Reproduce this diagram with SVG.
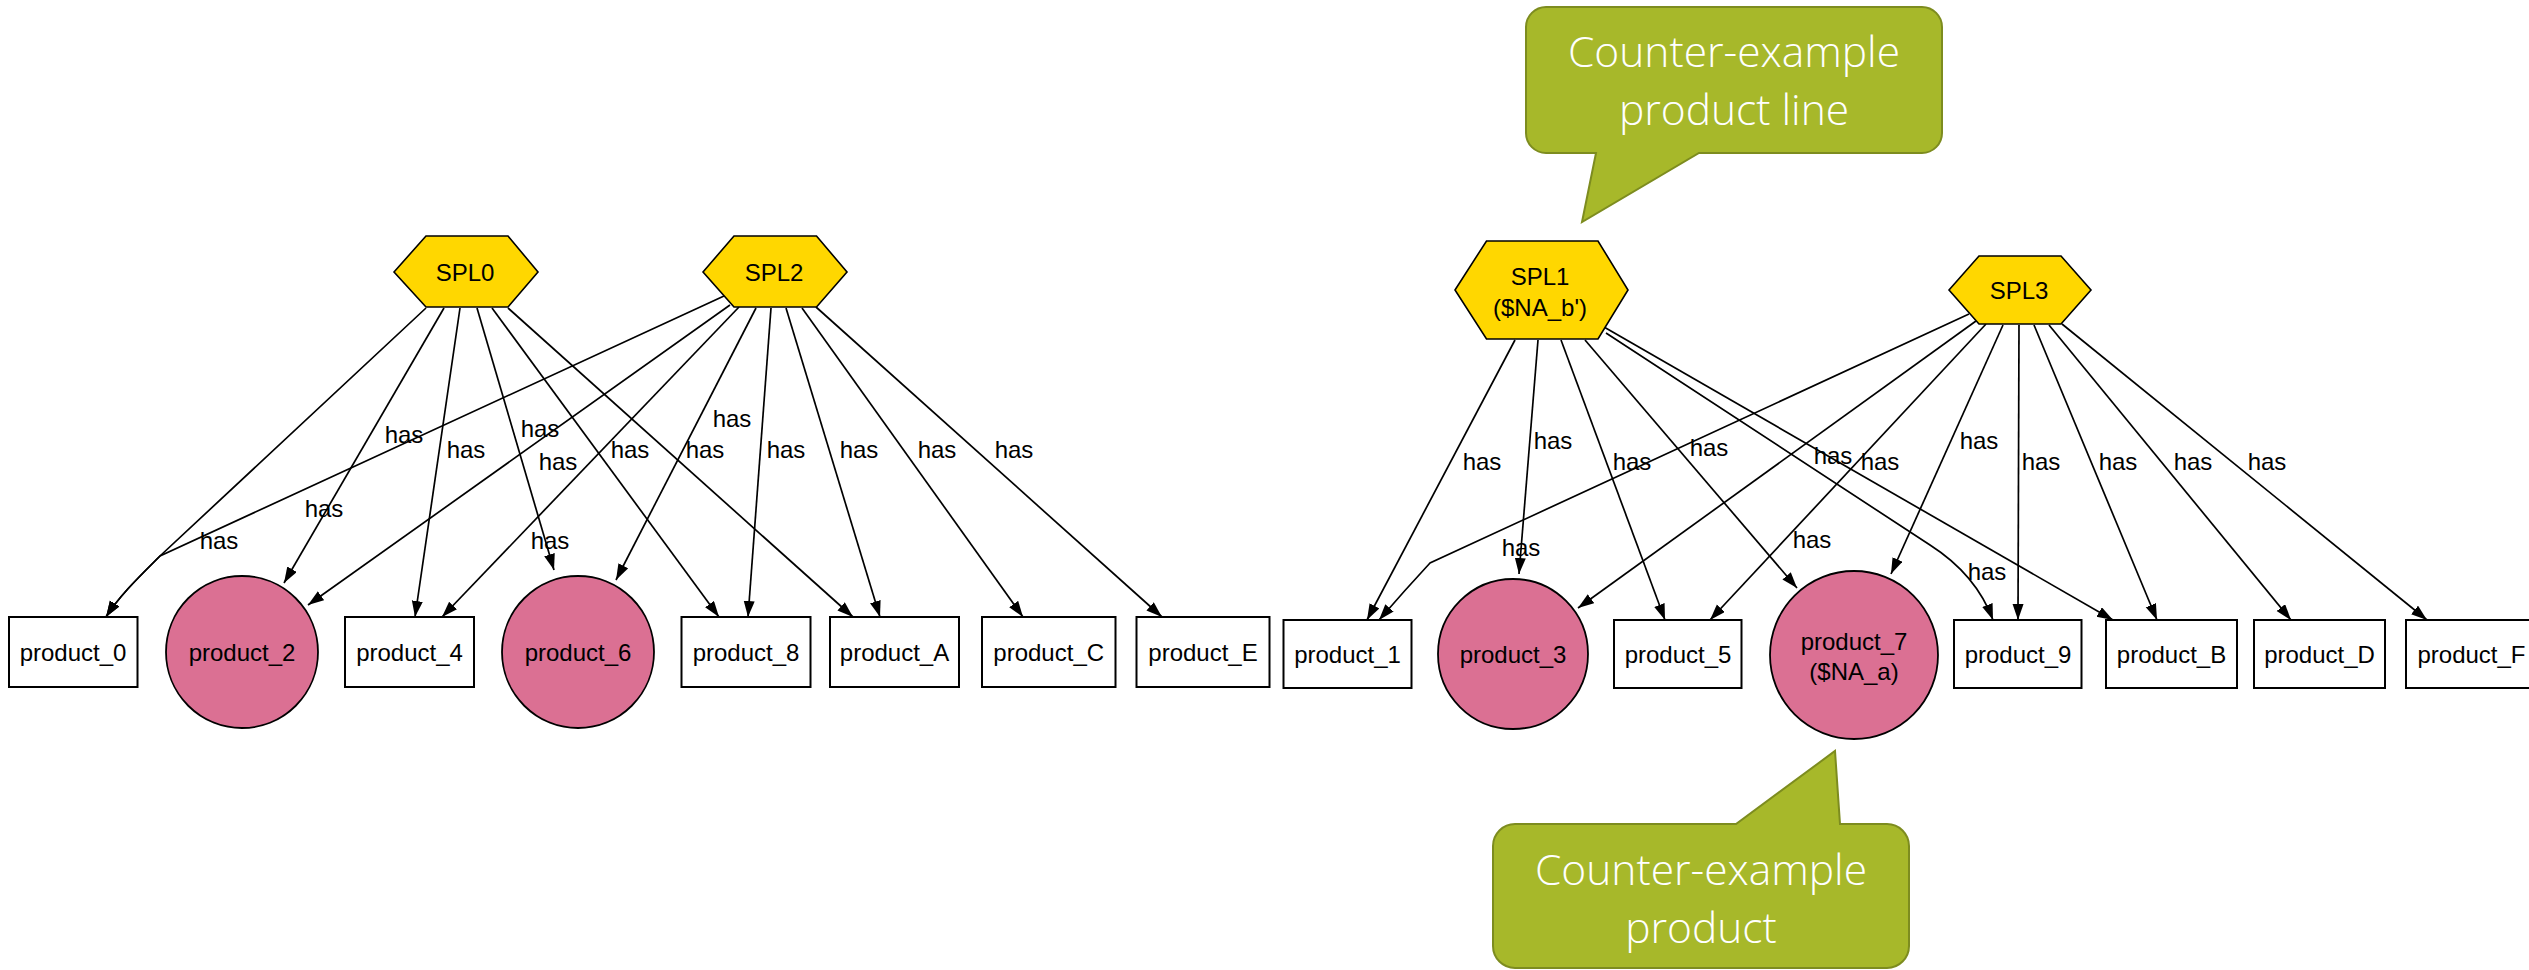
<svg xmlns="http://www.w3.org/2000/svg" width="2529" height="970" viewBox="0 0 2529 970">
  <defs>
    <marker id="arrow" markerUnits="userSpaceOnUse" markerWidth="18" markerHeight="12" refX="16" refY="5.5" orient="auto">
      <path d="M0,0 L16,5.5 L0,11 Z" fill="#000"/>
    </marker>
    <style>
      .spl { fill: #FFD700; stroke: #000; stroke-width: 1.6; }
      .prod { fill: #fff; stroke: #000; stroke-width: 2; }
      .hit { fill: #DB7093; stroke: #000; stroke-width: 1.8; }
      .lbl { font-family: "Liberation Sans", Arial, sans-serif; font-size: 24px; fill: #000; text-anchor: middle; }
      .edge { fill: none; stroke: #000; stroke-width: 1.7; marker-end: url(#arrow); }
      .call { fill: #A7B82A; stroke: #7D8C1F; stroke-width: 2; }
      .callt { font-family: "Open Sans", "Liberation Sans", sans-serif; font-weight: 300; font-size: 42.5px; fill: #fff; text-anchor: middle; }
    </style>
  </defs>

  <rect width="2529" height="970" fill="#fff"/>

  <!-- connectors -->
  <g id="edges">
    <!-- SPL0 -->
    <path class="edge" d="M426,308 L160,556 C140,576 120,595 106,617"/>
    <path class="edge" d="M444,308 L284,583"/>
    <path class="edge" d="M460,308 L415,617"/>
    <path class="edge" d="M477,308 L554,570"/>
    <path class="edge" d="M492,308 L719,617"/>
    <path class="edge" d="M508,308 L853,617"/>
    <!-- SPL2 -->
    <path class="edge" d="M724,296 L160,556 C140,576 120,595 106,617"/>
    <path class="edge" d="M730,305 L308,605"/>
    <path class="edge" d="M739,307 L442,617"/>
    <path class="edge" d="M756,308 L616,580"/>
    <path class="edge" d="M771,308 L748,617"/>
    <path class="edge" d="M786,308 L880,617"/>
    <path class="edge" d="M802,308 L1023,617"/>
    <path class="edge" d="M816,307 L1162,617"/>
    <!-- SPL1 -->
    <path class="edge" d="M1515,340 L1367,620"/>
    <path class="edge" d="M1538,340 L1519,574"/>
    <path class="edge" d="M1561,340 L1665,620"/>
    <path class="edge" d="M1585,340 L1797,588"/>
    <path class="edge" d="M1606,333 L1930,545 C1955,561 1980,585 1993,620"/>
    <path class="edge" d="M1604,327 L2113,620"/>
    <!-- SPL3 -->
    <path class="edge" d="M1969,314 L1430,563 Q1405,590 1379,620"/>
    <path class="edge" d="M1976,321 L1578,608"/>
    <path class="edge" d="M1986,324 L1710,620"/>
    <path class="edge" d="M2003,325 L1891,574"/>
    <path class="edge" d="M2019,325 L2018,620"/>
    <path class="edge" d="M2034,325 L2157,620"/>
    <path class="edge" d="M2049,325 L2291,620"/>
    <path class="edge" d="M2062,324 L2427,620"/>

    <!-- edge labels -->
    <g class="lbl">
      <text x="404" y="443">has</text>
      <text x="466" y="458">has</text>
      <text x="540" y="437">has</text>
      <text x="558" y="470">has</text>
      <text x="630" y="458">has</text>
      <text x="324" y="517">has</text>
      <text x="219" y="549">has</text>
      <text x="550" y="549">has</text>
      <text x="732" y="427">has</text>
      <text x="705" y="458">has</text>
      <text x="786" y="458">has</text>
      <text x="859" y="458">has</text>
      <text x="937" y="458">has</text>
      <text x="1014" y="458">has</text>

      <text x="1482" y="470">has</text>
      <text x="1553" y="449">has</text>
      <text x="1632" y="470">has</text>
      <text x="1709" y="456">has</text>
      <text x="1833" y="464">has</text>
      <text x="1880" y="470">has</text>
      <text x="1521" y="556">has</text>
      <text x="1812" y="548">has</text>
      <text x="1979" y="449">has</text>
      <text x="2041" y="470">has</text>
      <text x="2118" y="470">has</text>
      <text x="2193" y="470">has</text>
      <text x="2267" y="470">has</text>
      <text x="1987" y="580">has</text>
    </g>
  </g>

  <!-- product lines -->
  <g id="SPL0">
    <polygon class="spl" points="394,272 426,236 508,236 538,272 508,307 426,307"/>
    <text class="lbl" x="465" y="281">SPL0</text>
  </g>
  <g id="SPL2">
    <polygon class="spl" points="703,272 734,236 816.5,236 847,272 816.5,307 734,307"/>
    <text class="lbl" x="774" y="281">SPL2</text>
  </g>
  <g id="SPL1">
    <polygon class="spl" points="1455,290 1486.5,241 1598,241 1628,290 1598,339 1486.5,339"/>
    <text class="lbl" x="1540" y="285">SPL1</text>
    <text class="lbl" x="1540" y="316">($NA_b')</text>
  </g>
  <g id="SPL3">
    <polygon class="spl" points="1949,290 1979,256 2061,256 2091,290 2061,324 1979,324"/>
    <text class="lbl" x="2019" y="299">SPL3</text>
  </g>

  <!-- products -->
  <g id="product_0">
    <rect class="prod" x="9" y="617" width="128.5" height="70"/>
    <text class="lbl" x="73" y="661">product_0</text>
  </g>
  <g id="product_2">
    <circle class="hit" cx="242" cy="652" r="76"/>
    <text class="lbl" x="242" y="661">product_2</text>
  </g>
  <g id="product_4">
    <rect class="prod" x="345" y="617" width="129" height="70"/>
    <text class="lbl" x="409.5" y="661">product_4</text>
  </g>
  <g id="product_6">
    <circle class="hit" cx="578" cy="652" r="76"/>
    <text class="lbl" x="578" y="661">product_6</text>
  </g>
  <g id="product_8">
    <rect class="prod" x="681.5" y="617" width="129" height="70"/>
    <text class="lbl" x="746" y="661">product_8</text>
  </g>
  <g id="product_A">
    <rect class="prod" x="830" y="617" width="129" height="70"/>
    <text class="lbl" x="894.5" y="661">product_A</text>
  </g>
  <g id="product_C">
    <rect class="prod" x="982" y="617" width="133.5" height="70"/>
    <text class="lbl" x="1048.7" y="661">product_C</text>
  </g>
  <g id="product_E">
    <rect class="prod" x="1136.5" y="617" width="133" height="70"/>
    <text class="lbl" x="1203" y="661">product_E</text>
  </g>

  <g id="product_1">
    <rect class="prod" x="1283.5" y="620" width="128" height="68"/>
    <text class="lbl" x="1347.5" y="663">product_1</text>
  </g>
  <g id="product_3">
    <circle class="hit" cx="1513" cy="654" r="75"/>
    <text class="lbl" x="1513" y="663">product_3</text>
  </g>
  <g id="product_5">
    <rect class="prod" x="1614" y="620" width="127.5" height="68"/>
    <text class="lbl" x="1678" y="663">product_5</text>
  </g>
  <g id="product_7">
    <circle class="hit" cx="1854" cy="655" r="84"/>
    <text class="lbl" x="1854" y="650">product_7</text>
    <text class="lbl" x="1854" y="680">($NA_a)</text>
  </g>
  <g id="product_9">
    <rect class="prod" x="1954" y="620" width="127.5" height="68"/>
    <text class="lbl" x="2018" y="663">product_9</text>
  </g>
  <g id="product_B">
    <rect class="prod" x="2106" y="620" width="131" height="68"/>
    <text class="lbl" x="2171.5" y="663">product_B</text>
  </g>
  <g id="product_D">
    <rect class="prod" x="2254" y="620" width="131" height="68"/>
    <text class="lbl" x="2319.5" y="663">product_D</text>
  </g>
  <g id="product_F">
    <rect class="prod" x="2406" y="620" width="131" height="68"/>
    <text class="lbl" x="2471.5" y="663">product_F</text>
  </g>

  <!-- callouts -->
  <g id="callout_line">
    <path class="call" d="M1546,7 H1922 A20,20 0 0 1 1942,27 V133 A20,20 0 0 1 1922,153 H1699 L1582,222 L1596,153 H1546 A20,20 0 0 1 1526,133 V27 A20,20 0 0 1 1546,7 Z"/>
    <text class="callt" x="1734" y="67">Counter-example</text>
    <text class="callt" x="1734" y="125">product line</text>
  </g>
  <g id="callout_product">
    <path class="call" d="M1515,824 H1736 L1835,751 L1840,824 H1887 A22,22 0 0 1 1909,846 V946 A22,22 0 0 1 1887,968 H1515 A22,22 0 0 1 1493,946 V846 A22,22 0 0 1 1515,824 Z"/>
    <text class="callt" x="1701" y="885">Counter-example</text>
    <text class="callt" x="1701" y="943">product</text>
  </g>
</svg>
